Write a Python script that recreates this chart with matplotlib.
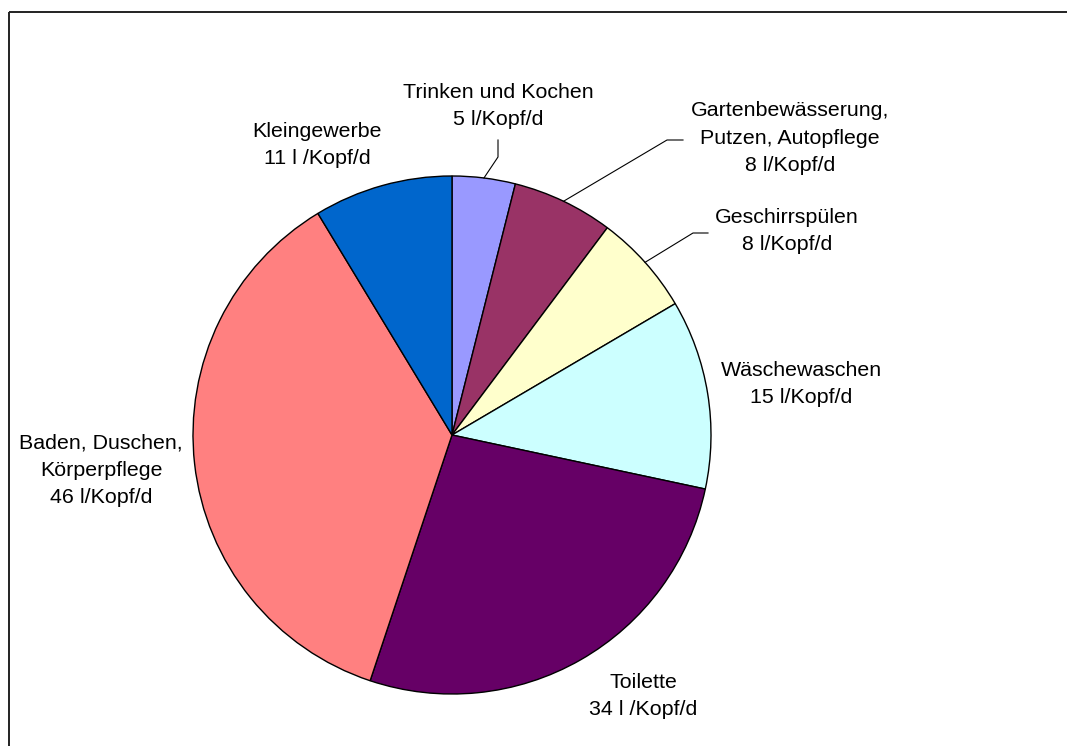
import numpy as np
import matplotlib
matplotlib.use("Agg")
from matplotlib import pyplot as plt

# Datos: consumo de agua por persona y día
categorias = ["Trinken und Kochen", "Gartenbewässerung,\nPutzen, Autopflege",
              "Geschirrspülen", "Wäschewaschen", "Toilette",
              "Baden, Duschen,\nKörperpflege", "Kleingewerbe"]
valores = [5, 8, 8, 15, 34, 46, 11]
etiquetas_valor = ["5 l/Kopf/d", "8 l/Kopf/d", "8 l/Kopf/d", "15 l/Kopf/d",
                   "34 l /Kopf/d", "46 l/Kopf/d", "11 l /Kopf/d"]
colores = ["#9999FF", "#993366", "#FFFFCC", "#CCFFFF", "#660066", "#FF8080", "#0066CC"]

plt.rcParams['font.family'] = ['Liberation Sans', 'DejaVu Sans']

W, H = 1067, 746
fig = plt.figure(figsize=(W / 100, H / 100), dpi=100)
ax = fig.add_axes([0, 0, 1, 1])

# Centro y radio en píxeles (y hacia arriba)
cx, cy, r = 452, H - 435, 259

wedges, _ = ax.pie(valores, colors=colores, startangle=90, counterclock=False,
                   center=(cx, cy), radius=r, frame=True,
                   wedgeprops=dict(edgecolor='black', linewidth=1.0))
ax.set_xlim(0, W)
ax.set_ylim(0, H)
ax.set_aspect('equal')
ax.axis('off')

# Posiciones de las etiquetas (x, y en píxeles desde arriba)
pos_etiquetas = [(498, 106), (790, 138), (787, 231), (801, 384),
                 (643, 696), (101, 470), (317, 145)]
for cat, val, (x, y) in zip(categorias, etiquetas_valor, pos_etiquetas):
    ax.text(x, H - y, cat + "\n" + val, ha='center', va='center',
            fontsize=15.4, linespacing=1.55, color='black')

# Líneas guía para los tres segmentos pequeños
codos = {0: [(498, 157), (498, 140)],
         1: [(667, 140), (683, 140)],
         2: [(693, 233), (708, 233)]}
for i, puntos in codos.items():
    w = wedges[i]
    ang = np.deg2rad((w.theta1 + w.theta2) / 2)
    x0 = cx + r * np.cos(ang)
    y0 = cy + r * np.sin(ang)
    xs = [x0] + [p[0] for p in puntos]
    ys = [y0] + [H - p[1] for p in puntos]
    ax.plot(xs, ys, color='black', linewidth=0.8)

# Marco del gráfico
ax.plot([9, 9], [0, H - 12], color='#222222', linewidth=1.4, solid_capstyle='butt')
ax.plot([9, W], [H - 12, H - 12], color='#222222', linewidth=1.4, solid_capstyle='butt')

plt.savefig('out.png', dpi=100)
